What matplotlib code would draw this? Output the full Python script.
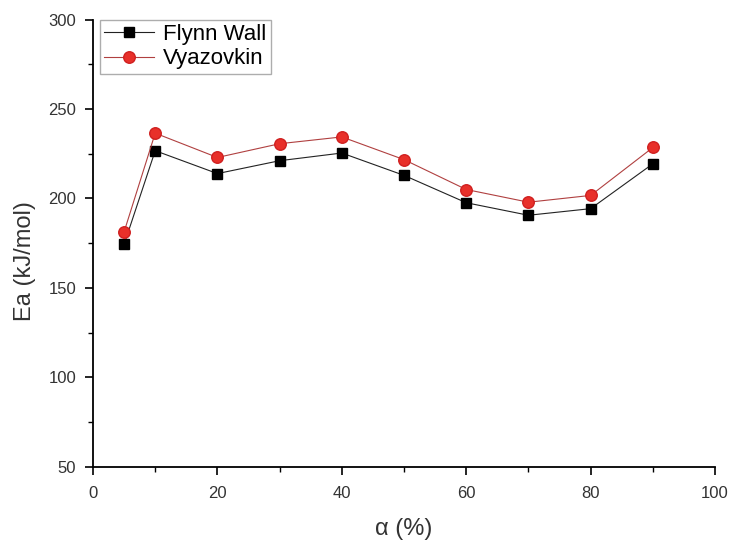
import matplotlib.pyplot as plt
import matplotlib.ticker as ticker

plt.rcParams['font.family'] = ['Liberation Sans', 'DejaVu Sans']

alpha = [5, 10, 20, 30, 40, 50, 60, 70, 80, 90]
ea_flynn_wall = [174.3, 226.7, 213.9, 221.1, 225.4, 212.9, 197.6, 190.6, 194.3, 219.4]
ea_vyazovkin = [181.3, 236.5, 222.9, 230.6, 234.4, 221.7, 205.0, 197.9, 201.7, 228.5]

fig = plt.figure(figsize=(7.38, 5.44), dpi=100)
ax = fig.add_axes([0.126, 0.142, 0.843, 0.822])

ax.plot(alpha, ea_flynn_wall, color='#222222', linewidth=0.8, marker='s',
        markersize=7.5, markerfacecolor='black', markeredgecolor='black',
        label='Flynn Wall')
ax.plot(alpha, ea_vyazovkin, color='#b04040', linewidth=0.8, marker='o',
        markersize=8.3, markerfacecolor='#e8302a', markeredgecolor='#d02020',
        label='Vyazovkin')

ax.set_xlim(0, 100)
ax.set_ylim(50, 300)
ax.xaxis.set_major_locator(ticker.MultipleLocator(20))
ax.xaxis.set_minor_locator(ticker.MultipleLocator(10))
ax.yaxis.set_major_locator(ticker.MultipleLocator(50))
ax.yaxis.set_minor_locator(ticker.MultipleLocator(25))

for side in ['top', 'right']:
    ax.spines[side].set_visible(False)
for side in ['left', 'bottom']:
    ax.spines[side].set_linewidth(1.3)

ax.tick_params(which='major', direction='out', length=6, width=1.2,
               labelsize=12, colors='black', labelcolor='#333333')
ax.tick_params(axis='x', which='major', pad=8)
ax.tick_params(axis='y', which='major', pad=6)
ax.tick_params(which='minor', direction='out', length=3.5, width=1.0)

ax.set_xlabel('α (%)', fontsize=17, color='#333333', labelpad=12)
ax.set_ylabel('Ea (kJ/mol)', fontsize=17, color='#333333')
ax.yaxis.set_label_coords(-0.091, 0.459)

leg = ax.legend(loc='upper left', bbox_to_anchor=(0.011, 1.0), fontsize=16,
                frameon=True, fancybox=False, handlelength=2.25,
                borderpad=0.2, labelspacing=0.15, handletextpad=0.4,
                borderaxespad=0.0)
leg.get_frame().set_edgecolor('#999999')
leg.get_frame().set_linewidth(1.0)

fig.savefig('out.png', dpi=100)
